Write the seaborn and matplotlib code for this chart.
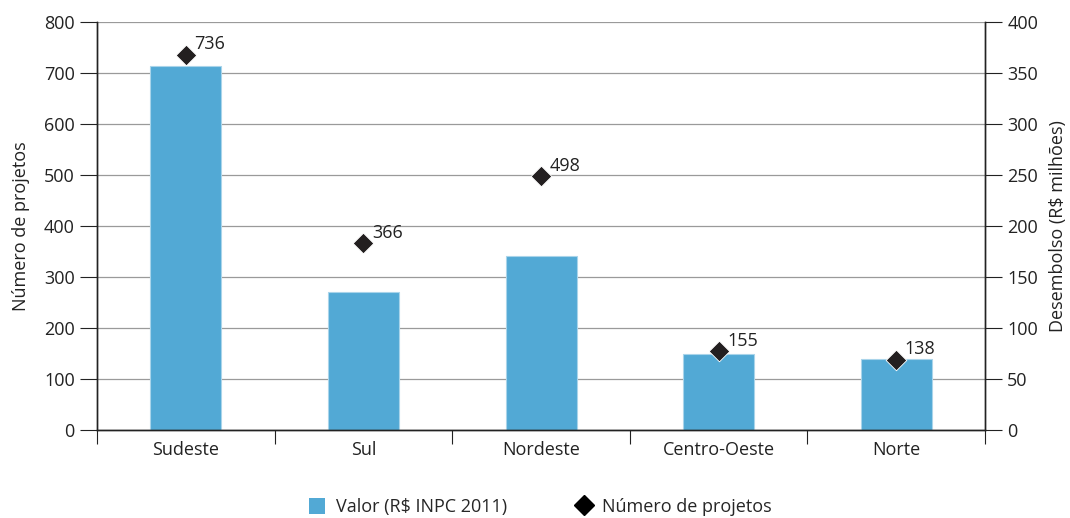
import matplotlib
matplotlib.use("Agg")
import matplotlib.pyplot as plt
import seaborn as sns
import pandas as pd
from matplotlib.patches import Patch
from matplotlib.lines import Line2D
from matplotlib.ticker import MultipleLocator, FixedLocator

regioes = ["Sudeste", "Sul", "Nordeste", "Centro-Oeste", "Norte"]
valor = [357, 135, 171, 74, 70]          # R$ milhões (right axis)
num_projetos = [736, 366, 498, 155, 138]  # left axis

sns.set_theme(style="white")
plt.rcParams['font.family'] = ['Open Sans', 'DejaVu Sans']
FS = 13

df = pd.DataFrame({"Regiao": regioes, "Valor": valor, "Projetos": num_projetos})

fig = plt.figure(figsize=(10.70, 5.18), dpi=100)
ax1 = fig.add_axes([0.0907, 0.170, 0.8299, 0.7875])
ax2 = ax1.twinx()

bar_color = "#52A9D5"
sns.barplot(data=df, x="Regiao", y="Valor", ax=ax2, color=bar_color, width=0.4,
            saturation=1, edgecolor="#a9d4ea", linewidth=0.8, zorder=2)
ax2.set_ylim(0, 400)
ax2.yaxis.set_major_locator(MultipleLocator(50))
ax2.grid(axis="y", color="#9a9a9a", linewidth=0.9)
ax2.set_axisbelow(True)
ax2.set_ylabel("Desembolso (R$ milhões)", fontsize=FS, color="#222222", labelpad=8)
ax2.set_xlabel("")

sns.scatterplot(data=df, x="Regiao", y="Projetos", ax=ax1, marker="D", s=110,
                color="#231f20", edgecolor="white", linewidth=0.6, zorder=5)
ax1.set_zorder(ax2.get_zorder() + 1)
ax1.patch.set_visible(False)
ax1.set_ylim(0, 800)
ax1.set_xlim(-0.5, 4.5)
ax2.set_xlim(-0.5, 4.5)
ax1.yaxis.set_major_locator(MultipleLocator(100))
ax1.set_ylabel("Número de projetos", fontsize=FS, color="#222222", labelpad=10)
ax1.set_xlabel("")

for i, v in enumerate(num_projetos):
    ax1.annotate(str(v), (i, v), xytext=(6, 1), textcoords="offset points",
                 fontsize=FS, color="#222222", ha="left", va="bottom")

for ax in (ax1, ax2):
    ax.spines["top"].set_visible(False)
    for s in ("left", "right", "bottom"):
        ax.spines[s].set_color("#222222")
        ax.spines[s].set_linewidth(1)

ax1.tick_params(axis="y", left=True, length=12, width=0.8, color="#222222",
                labelsize=FS, labelcolor="#222222", pad=4)
ax2.tick_params(axis="y", right=True, length=12, width=0.8, color="#222222",
                labelsize=FS, labelcolor="#222222", pad=4)
ax1.xaxis.set_minor_locator(FixedLocator([-0.5, 0.5, 1.5, 2.5, 3.5, 4.5]))
ax1.tick_params(axis="x", which="major", length=0, labelsize=FS,
                labelcolor="#222222", pad=8)
ax1.tick_params(axis="x", which="minor", bottom=True, length=10, width=0.8,
                color="#222222")
ax2.tick_params(axis="x", which="both", bottom=False, labelbottom=False)

handles = [Patch(facecolor=bar_color, edgecolor="none", label="Valor (R$ INPC 2011)"),
           Line2D([0], [0], marker="D", linestyle="none", color="black",
                  markersize=10, label="Número de projetos")]
fig.legend(handles=handles, loc="lower center", bbox_to_anchor=(0.505, -0.028),
           ncol=2, frameon=False, fontsize=FS, columnspacing=3.8, handlelength=0.9,
           handleheight=1.0, handletextpad=0.6)

fig.savefig("out.png", dpi=100)
